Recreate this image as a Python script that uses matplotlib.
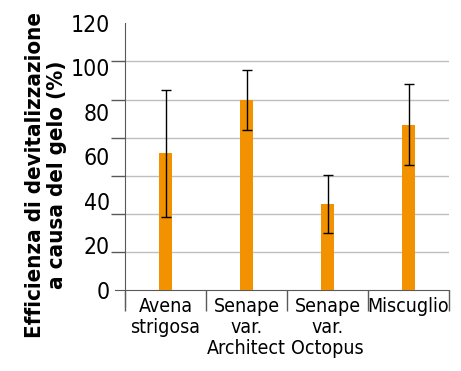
import matplotlib
matplotlib.use("Agg")
import matplotlib.pyplot as plt
import matplotlib.transforms as mtransforms
import numpy as np

categories = ["Avena\nstrigosa", "Senape\nvar.\nArchitect", "Senape\nvar.\nOctopus", "Miscuglio"]
values = [61.6, 85.5, 38.7, 74.4]
errors = [28.5, 13.3, 13.0, 18.3]
tick_labels = [0, 20, 40, 60, 80, 100, 120]

plt.rcParams["font.family"] = ["DejaVu Sans"]
plt.rcParams["font.stretch"] = "condensed"

fig = plt.figure(figsize=(4.61, 3.71), dpi=100)
ax = fig.add_axes([125 / 461, 1 - 290.3 / 371, 324 / 461, 267 / 371])

x = np.arange(len(categories))
ax.bar(x, values, width=0.165, color="#F39200", zorder=3)
ax.errorbar(x, values, yerr=errors, fmt="none", ecolor="black", elinewidth=1.0,
            capsize=3.5, capthick=1.0, zorder=4)

ax.set_xlim(-0.5, len(categories) - 0.5)
ax.set_ylim(0, 120)

# gridlines and tick marks sit on 7 even steps, labels on 6
grid_pos = np.linspace(0, 120, 8)
ax.set_yticks(grid_pos, minor=True)
ax.yaxis.grid(True, which="minor", color="#BFBFBF", linewidth=1.0, zorder=0)
ax.tick_params(axis="y", which="minor", length=10, width=1.0, color="#595959")
ax.set_yticks(tick_labels)
ax.set_yticklabels([str(t) for t in tick_labels])
ax.tick_params(axis="y", which="major", length=0, pad=11, labelsize=16.5)
shift = mtransforms.ScaledTranslation(0, -2 / 100, fig.dpi_scale_trans)
for lab in ax.get_yticklabels():
    lab.set_verticalalignment("center")
    lab.set_transform(lab.get_transform() + shift)

ax.set_xticks(x)
ax.set_xticklabels(categories, fontsize=14, linespacing=1.12)
ax.tick_params(axis="x", which="major", length=0, pad=5)
ax.set_xticks(np.arange(len(categories) + 1) - 0.5, minor=True)
ax.tick_params(axis="x", which="minor", length=15, width=1.0, color="#595959")

for s in ["top", "right"]:
    ax.spines[s].set_visible(False)
ax.spines["left"].set_color("#595959")
ax.spines["bottom"].set_color("#595959")
ax.spines["left"].set_bounds(-7, 120)
ax.spines["bottom"].set_bounds(-0.5 - 10 / 81, len(categories) - 0.5)

fig.text(46 / 461, 1 - 175 / 371, "Efficienza di devitalizzazione\na causa del gelo (%)",
         rotation=90, ha="center", va="center", multialignment="center",
         fontsize=16, fontweight="bold", linespacing=1.08)

fig.savefig("out.png", dpi=100)
